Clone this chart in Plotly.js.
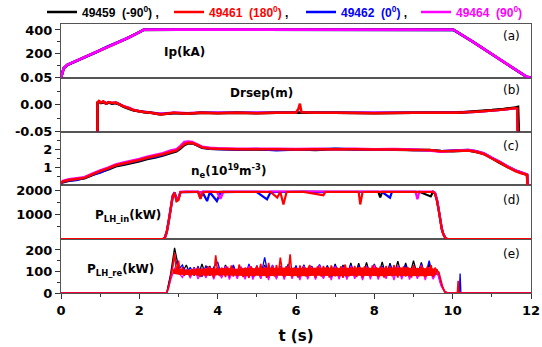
<!DOCTYPE html>
<html><head><meta charset="utf-8">
<script src="https://cdn.plot.ly/plotly-3.0.1.min.js"></script>
<style>html,body{margin:0;padding:0;background:#fff}#chart{width:542px;height:347px}</style>
</head><body><div id="chart"></div>
<script>
// ---------- shots ----------
const shotNames = ['49459', '49461', '49462', '49464'];
const shotAngles = ['-90', '180', '0', '90'];
const shotColors = ['#000000', '#ff0000', '#0000ff', '#ff00ff'];

// ---------- (a) Ip (kA) ----------
const tA = [0, 0.07, 0.16, 0.41, 0.67, 0.92, 1.18, 1.43, 1.69, 1.94, 2.11, 3, 4, 5, 6, 7, 8, 9, 10.02, 10.5, 10.96, 11.4, 11.89, 12];
const ipK = [0, 80, 107, 143, 182, 218, 260, 293, 330, 371, 401, 402, 401, 402, 401, 402, 401, 402, 401, 304, 203, 111, 8, 0];
const ipR = [0, 81, 108, 144, 183, 219, 261, 294, 331, 372, 402, 403, 402, 403, 402, 403, 402, 403, 402, 305, 204, 112, 9, 4];
const ipB = [0, 80, 108, 143, 183, 218, 261, 293, 331, 371, 402, 402, 402, 402, 402, 402, 402, 402, 401, 304, 204, 111, 8, 0];
const ipM = [0, 81, 108, 144, 183, 219, 261, 294, 331, 372, 402, 403, 402, 403, 402, 403, 402, 403, 402, 305, 204, 112, 8, 0];

// ---------- (b) Drsep (m) ----------
const tB = [0.93, 0.931, 0.97, 1.02, 1.08, 1.15, 1.22, 1.3, 1.4, 1.5, 1.6, 1.75, 1.86, 2.0, 2.11, 2.3, 2.54, 2.7, 2.88, 3.05, 3.22, 3.4, 3.56, 4.0, 4.5, 5.0, 5.5, 6.0, 6.06, 6.1, 6.14, 6.5, 7.0, 8.0, 9.0, 10.1, 10.6, 11.0, 11.3, 11.6, 11.65, 11.66];
const drR = [-0.05, 0.004, 0.007, 0.004, 0.006, 0.002, 0.005, 0.003, 0.004, 0.0, -0.003, -0.007, -0.0105, -0.012, -0.0135, -0.015, -0.018, -0.017, -0.015, -0.016, -0.017, -0.016, -0.015, -0.016, -0.015, -0.016, -0.015, -0.015, -0.008, 0.002, -0.014, -0.015, -0.015, -0.016, -0.015, -0.015, -0.013, -0.011, -0.009, -0.006, -0.007, -0.05];
const drB = [-0.05, 0.003, 0.006, 0.004, 0.005, 0.002, 0.004, 0.003, 0.003, 0.0, -0.003, -0.007, -0.010, -0.012, -0.013, -0.015, -0.017, -0.017, -0.015, -0.016, -0.016, -0.016, -0.015, -0.015, -0.015, -0.015, -0.015, -0.015, -0.015, -0.015, -0.015, -0.015, -0.015, -0.015, -0.015, -0.015, -0.013, -0.011, -0.009, -0.006, -0.006, -0.05];
const drM = [-0.05, 0.004, 0.006, 0.004, 0.006, 0.003, 0.004, 0.003, 0.004, 0.001, -0.003, -0.006, -0.010, -0.012, -0.013, -0.015, -0.017, -0.016, -0.015, -0.015, -0.016, -0.015, -0.015, -0.015, -0.015, -0.015, -0.015, -0.015, -0.015, -0.015, -0.015, -0.015, -0.015, -0.015, -0.015, -0.014, -0.013, -0.011, -0.009, -0.006, -0.006, -0.05];
const tBk = [0.93, 0.931, 0.97, 1.02, 1.08, 1.15, 1.22, 1.3, 1.4, 1.5, 1.6, 1.75, 1.86, 2.0, 2.11, 2.3, 2.54, 2.7, 2.88, 3.05, 3.22, 3.4, 3.56, 4.0, 4.5, 5.0, 5.5, 6.0, 6.5, 7.0, 8.0, 9.0, 10.1, 10.6, 11.0, 11.3, 11.6, 11.67, 11.69];
const drK = [-0.05, 0.004, 0.006, 0.003, 0.005, 0.002, 0.004, 0.002, 0.003, 0.0, -0.004, -0.008, -0.011, -0.012, -0.014, -0.015, -0.018, -0.017, -0.016, -0.016, -0.017, -0.016, -0.015, -0.016, -0.015, -0.016, -0.015, -0.015, -0.015, -0.015, -0.016, -0.015, -0.015, -0.012, -0.010, -0.008, -0.005, -0.004, -0.05];

// ---------- (c) ne (1e19 m^-3) ----------
const tC = [0, 0.05, 0.2, 0.4, 0.6, 0.8, 1.0, 1.2, 1.4, 1.6, 1.8, 2.0, 2.2, 2.4, 2.6, 2.8, 2.95, 3.05, 3.15, 3.25, 3.35, 3.45, 3.6, 3.8, 4.0, 4.5, 5.0, 5.5, 6.0, 6.5, 7.0, 7.5, 8.0, 8.5, 9.0, 9.4, 9.7, 10.0, 10.4, 10.6, 10.8, 11.0, 11.2, 11.4, 11.6, 11.75, 11.85, 11.9, 11.91];
const neR = [0.12, 0.22, 0.3, 0.36, 0.42, 0.62, 0.8, 0.95, 1.12, 1.22, 1.32, 1.42, 1.54, 1.64, 1.74, 1.86, 1.95, 2.12, 2.3, 2.38, 2.36, 2.28, 2.12, 2.06, 2.04, 2.02, 2.01, 2.02, 2.0, 2.01, 2.02, 2.02, 2.0, 2.0, 1.98, 1.97, 1.9, 1.92, 1.95, 1.88, 1.74, 1.5, 1.28, 1.02, 0.8, 0.68, 0.62, 0.58, 0];
const neK = [0.1, 0.18, 0.26, 0.33, 0.4, 0.58, 0.74, 0.88, 1.06, 1.15, 1.25, 1.35, 1.47, 1.56, 1.67, 1.8, 1.9, 2.05, 2.25, 2.35, 2.34, 2.26, 2.1, 2.04, 2.03, 2.0, 2.0, 1.99, 2.01, 1.98, 2.03, 2.0, 2.02, 1.99, 1.97, 1.98, 1.92, 1.9, 1.95, 1.86, 1.76, 1.52, 1.26, 1.03, 0.82, 0.7, 0.63, 0.58, 0];
const neB = [0.12, 0.2, 0.28, 0.3, 0.44, 0.6, 0.72, 0.92, 1.12, 1.2, 1.3, 1.4, 1.52, 1.6, 1.7, 1.88, 1.96, 2.12, 2.32, 2.4, 2.37, 2.28, 2.12, 2.05, 2.03, 2.0, 2.03, 1.96, 2.0, 2.02, 2.04, 2.01, 2.0, 2.01, 1.98, 1.96, 1.9, 1.94, 1.98, 1.9, 1.78, 1.54, 1.32, 1.06, 0.84, 0.72, 0.64, 0.6, 0];
const neM = [0.14, 0.25, 0.34, 0.4, 0.46, 0.66, 0.84, 0.99, 1.17, 1.28, 1.38, 1.48, 1.6, 1.7, 1.8, 1.95, 2.02, 2.2, 2.42, 2.45, 2.42, 2.32, 2.16, 2.1, 2.07, 2.05, 2.04, 2.05, 2.03, 2.04, 2.02, 2.04, 2.02, 2.03, 2.0, 1.95, 1.88, 1.93, 1.97, 1.9, 1.78, 1.54, 1.32, 1.06, 0.84, 0.72, 0.66, 0.6, 0];

// ---------- (d) P_LH_in (kW) ----------
const tD = [0, 2.6, 2.65, 2.7, 2.75, 2.8, 2.85, 2.9, 2.95, 3.0, 3.05, 3.2, 3.5, 3.56, 3.62, 3.73, 3.8, 3.98, 4.07, 4.15, 4.5, 5.0, 5.26, 5.35, 5.52, 5.6, 5.68, 5.76, 6.2, 6.7, 6.75, 7.2, 7.6, 7.64, 7.7, 8.1, 8.15, 8.2, 8.4, 8.45, 9.05, 9.1, 9.15, 9.44, 9.5, 9.55, 9.6, 9.64, 9.68, 9.72, 9.76, 9.81, 9.86, 12];
const pinR = [0, 0, 60, 300, 750, 1250, 1750, 1900, 1550, 1600, 1920, 1930, 1930, 1650, 1920, 1930, 1930, 1930, 1930, 1930, 1930, 1930, 1930, 1930, 1700, 1930, 1420, 1930, 1930, 1800, 1930, 1930, 1930, 1420, 1930, 1930, 1930, 1930, 1930, 1930, 1930, 1930, 1930, 1930, 1930, 1850, 1550, 1200, 820, 420, 200, 60, 0, 0];
const pinK = [0, 0, 50, 280, 700, 1200, 1700, 1880, 1600, 1650, 1930, 1940, 1940, 1680, 1940, 1940, 1940, 1930, 1940, 1940, 1940, 1940, 1930, 1940, 1940, 1940, 1940, 1940, 1950, 1940, 1940, 1940, 1940, 1940, 1940, 1940, 1710, 1940, 1940, 1940, 1940, 1940, 1940, 1750, 1940, 1880, 1600, 1250, 850, 450, 220, 70, 0, 0];
const pinB = [0, 0, 60, 320, 780, 1280, 1780, 1920, 1650, 1700, 1920, 1920, 1930, 1930, 1900, 1560, 1920, 1560, 1900, 1920, 1930, 1930, 1630, 1920, 1930, 1930, 1930, 1930, 1930, 1930, 1930, 1930, 1930, 1930, 1930, 1930, 1930, 1930, 1700, 1930, 1930, 1930, 1930, 1930, 1930, 1870, 1580, 1220, 830, 430, 210, 60, 0, 0];
const pinM = [0, 0, 40, 260, 720, 1220, 1720, 1900, 1600, 1680, 1940, 1950, 1950, 1900, 1950, 1950, 1950, 1940, 1650, 1950, 1950, 1950, 1950, 1950, 1950, 1950, 1950, 1950, 1950, 1950, 1950, 1950, 1950, 1950, 1950, 1950, 1950, 1950, 1950, 1950, 1950, 1630, 1950, 1950, 1950, 1900, 1620, 1260, 860, 460, 220, 70, 0, 0];

// ---------- (e) P_LH_re (kW) ----------
// sampled records: start time and sample step of each band record
const reStartT = 2.7;
const reStepRed = 0.05;
const reStepOther = 0.1;
const reRed = [0,25,75,120,185,90,150,85,120,80,
  105,92,78,110,82,100,118,75,96,112,
  80,125,88,115,72,175,98,80,118,104,
  74,122,90,128,76,110,84,132,100,74,
  118,92,70,124,106,78,126,94,135,80,
  112,70,140,96,122,76,130,88,165,100,
  74,125,90,180,76,118,104,72,128,92,
  120,78,110,130,86,116,72,124,98,76,
  126,90,120,72,128,104,78,118,94,124,
  70,132,100,78,118,90,126,74,120,106,
  72,124,96,116,78,128,92,120,75,124,
  102,72,126,88,120,78,130,98,72,118,
  94,124,76,120,102,72,128,88,116,78,
  126,98,74,122,90,130,76,118,104,96,
  60,25,6,0];
// dense core of the red record (upper / lower edge of the solid band)
const reRedCoreT = [2.85, 3.0, 3.25, 3.5, 3.75, 4.0, 4.25, 4.5, 4.75, 5.0, 5.25, 5.5, 5.75, 6.0, 6.25, 6.5, 6.75, 7.0, 7.25, 7.5, 7.75, 8.0, 8.25, 8.5, 8.75, 9.0, 9.25, 9.5, 9.6];
const reRedCoreHi = [110, 112, 108, 112, 115, 114, 116, 113, 117, 115, 118, 116, 119, 116, 117, 115, 118, 116, 117, 115, 118, 116, 117, 115, 118, 116, 117, 115, 100];
const reRedCoreLo = [90, 85, 84, 82, 80, 82, 80, 81, 79, 80, 78, 80, 79, 80, 78, 80, 79, 80, 78, 80, 79, 80, 78, 80, 79, 80, 78, 80, 85];
const reBlack = [0,90,210,120,95,130,85,120,80,135, 78,125,80,120,75,130,72,125,78,118,
  70,128,75,122,68,130,74,125,70,118, 75,128,72,122,70,130,74,125,72,132,
  70,128,75,135,72,130,76,140,74,138, 78,142,80,135,76,145,78,138,80,148,
  76,140,78,150,80,142,76,135,74,110, 45,5,0];
const reBlue = [0,80,170,110,130,85,120,80,125,75, 128,80,120,145,78,125,72,130,76,122,
  74,135,70,128,76,165,72,130,78,125, 70,135,76,128,72,130,78,125,70,132,
  76,125,72,130,78,125,70,132,76,128, 72,125,78,130,70,126,74,132,78,125,
  72,130,76,128,72,135,78,150,74,105, 40,4,0];
const reMag = [0,60,115,95,72,112,68,118,65,115, 70,120,64,118,68,124,62,116,66,120,
  64,126,62,118,66,122,60,128,64,120, 62,124,66,118,60,126,64,120,62,128,
  66,118,60,124,64,120,62,126,66,118, 60,124,64,130,62,120,66,124,60,128,
  64,118,62,126,66,130,60,120,64,100, 35,3,0];
const rePreT = [0, 2.6];
const rePreV = [0, 0];
const reTailRedT = [10.0, 10.12, 10.14, 10.16, 12];
const reTailRedV = [0, 0, 57, 0, 0];
const reTailBlueT = [10.0, 10.17, 10.19, 10.21, 12];
const reTailBlueV = [0, 0, 90, 0, 0];
const reTailT = [10.0, 12];
const reTailV = [0, 0];

function sampleTimes(n, step) {
  const out = [];
  for (let i = 0; i < n; i++) out.push(+(reStartT + i * step).toFixed(3));
  return out;
}
function reSeries(vals, step, tailT, tailV) {
  return {
    x: rePreT.concat(sampleTimes(vals.length, step), tailT),
    y: rePreV.concat(vals, tailV)
  };
}

// ---------- build traces ----------
const traces = [];
const legendW = [82, 87, 70, 80];
function legendName(i) {
  return '<span style="color:' + shotColors[i] + '">' + shotNames[i] + '\u00a0\u00a0(' + shotAngles[i] + '<sup>0</sup>)</span>' + (i < 3 ? '\u00a0,' : '');
}
// panel (a) — these carry the legend (black, red, blue, magenta)
const ipAll = [ipK, ipR, ipB, ipM];
for (let i = 0; i < 4; i++) {
  traces.push({x: tA, y: ipAll[i], xaxis: 'x5', yaxis: 'y5', type: 'scatter', mode: 'lines',
    name: legendName(i), legendwidth: legendW[i], legendrank: i + 1, showlegend: true,
    line: {color: shotColors[i], width: 2.6}});
}
function add(x, y, ax, ci, w) {
  traces.push({x: x, y: y, xaxis: 'x' + ax, yaxis: 'y' + ax, type: 'scatter', mode: 'lines',
    showlegend: false, hoverinfo: 'skip', line: {color: shotColors[ci], width: w, simplify: false}});
}
// panel (b)
add(tB, drB, 4, 2, 2.5); add(tB, drM, 4, 3, 2.5); add(tBk, drK, 4, 0, 2.5); add(tB, drR, 4, 1, 2.5);
// panel (c)
add(tC, neK, 3, 0, 2.5); add(tC, neB, 3, 2, 2.5); add(tC, neM, 3, 3, 2.5); add(tC, neR, 3, 1, 2.5);
// panel (d)
add(tD, pinK, 2, 0, 2.2); add(tD, pinB, 2, 2, 2.2); add(tD, pinM, 2, 3, 2.2); add(tD, pinR, 2, 1, 2.2);
// panel (e)
let s;
s = reSeries(reBlack, reStepOther, reTailT, reTailV); add(s.x, s.y, '', 0, 1.3);
s = reSeries(reBlue, reStepOther, reTailBlueT, reTailBlueV); add(s.x, s.y, '', 2, 1.3);
s = reSeries(reMag, reStepOther, reTailT, reTailV); add(s.x, s.y, '', 3, 1.3);
traces.push({x: reRedCoreT, y: reRedCoreLo, xaxis: 'x', yaxis: 'y', type: 'scatter', mode: 'lines',
  showlegend: false, hoverinfo: 'skip', line: {width: 0, color: shotColors[1]}});
traces.push({x: reRedCoreT, y: reRedCoreHi, xaxis: 'x', yaxis: 'y', type: 'scatter', mode: 'lines',
  showlegend: false, hoverinfo: 'skip', fill: 'tonexty', fillcolor: shotColors[1], line: {width: 0, color: shotColors[1]}});
s = reSeries(reRed, reStepRed, reTailRedT, reTailRedV); add(s.x, s.y, '', 1, 1.6);

// ---------- axes ----------
const tickFont = {family: 'DejaVu Sans, Arial', size: 13, color: '#000', weight: 'bold'};
const lineCol = '#555';
function yAx(dom, range, tv, tt, minorVals) {
  return {domain: dom, range: range, showline: true, linecolor: lineCol, linewidth: 1, mirror: true,
    ticks: 'outside', ticklen: 5, tickcolor: '#333', tickwidth: 1,
    tickmode: 'array', tickvals: tv, ticktext: tt, tickfont: tickFont,
    minor: {tickmode: 'array', tickvals: minorVals, ticklen: 3, tickcolor: '#333', ticks: 'outside'},
    showgrid: false, zeroline: false, fixedrange: true};
}
function xAx(anchor, showLabels) {
  const o = {anchor: anchor, range: [0, 12], showline: true, linecolor: lineCol, linewidth: 1, mirror: true,
    showgrid: false, zeroline: false, fixedrange: true};
  if (showLabels) {
    Object.assign(o, {ticks: 'outside', ticklen: 5, tickcolor: '#333', dtick: 2, tick0: 0,
      tickfont: {family: 'DejaVu Sans, Arial', size: 13, color: '#000', weight: 'bold'},
      minor: {dtick: 1, ticklen: 3, tickcolor: '#333', ticks: 'outside'},
      title: {text: 't (s)', standoff: 13, font: {family: 'DejaVu Sans, Arial', size: 15, color: '#000', weight: 'bold'}}});
  } else {
    Object.assign(o, {ticks: '', showticklabels: false, matches: 'x'});
  }
  return o;
}

const labFont = {family: 'DejaVu Sans, Arial', size: 12, color: '#000', weight: 'bold'};
const panFont = {family: 'DejaVu Sans, Arial', size: 12, color: '#000'};
function ann(text, x, y, ax, font) {
  return {text: text, x: x, y: y, xref: 'x' + ax, yref: 'y' + ax, showarrow: false, font: font,
    xanchor: 'center', yanchor: 'middle'};
}
const annotations = [
  ann('Ip(kA)', 3.15, 217, 5, labFont),
  ann('Drsep(m)', 5.11, 0.022, 4, labFont),
  ann('n<sub>e</sub>(10<sup>19</sup>m<sup>-3</sup>)', 4.27, 0.78, 3, labFont),
  ann('P<sub>LH_in</sub>(kW)', 1.7, 940, 2, labFont),
  ann('P<sub>LH_re</sub>(kW)', 1.52, 108, '', labFont),
  ann('(a)', 11.49, 350, 5, panFont),
  ann('(b)', 11.49, 0.028, 4, panFont),
  ann('(c)', 11.49, 2.17, 3, panFont),
  ann('(d)', 11.49, 1590, 2, panFont),
  ann('(e)', 11.49, 179, '', panFont)
];

const layout = {
  width: 542, height: 347,
  margin: {l: 61, r: 11, t: 24, b: 54, autoexpand: false},
  paper_bgcolor: '#fff', plot_bgcolor: '#fff',
  showlegend: true,
  legend: {orientation: 'h', traceorder: 'normal', x: -0.0404, xanchor: 'left', y: 1.0446, yanchor: 'middle',
    font: {family: 'Liberation Sans, Arial', size: 12, color: '#000', weight: 'bold'},
    bgcolor: 'rgba(0,0,0,0)', borderwidth: 0, itemwidth: 30, tracegroupgap: 0},
  xaxis: xAx('y', true),
  xaxis2: xAx('y2', false),
  xaxis3: xAx('y3', false),
  xaxis4: xAx('y4', false),
  xaxis5: xAx('y5', false),
  yaxis: yAx([0, 0.2], [0, 250], [0, 100, 200], ['0', '100', '200'], [50, 150]),
  yaxis2: yAx([0.2, 0.4], [0, 2200], [1000, 2000], ['1000', '2000'], [500, 1500]),
  yaxis3: yAx([0.4, 0.6], [0, 3], [1, 2], ['1', '2'], [0.5, 1.5, 2.5]),
  yaxis4: yAx([0.6, 0.8], [-0.05, 0.05], [-0.05, 0, 0.05], ['-0.05', '0.00', '0.05'], [-0.025, 0.025]),
  yaxis5: yAx([0.8, 1], [0, 450], [200, 400], ['200', '400'], [100, 300]),
  annotations: annotations
};

Plotly.newPlot('chart', traces, layout, {displayModeBar: false, staticPlot: true});
</script></body></html>
